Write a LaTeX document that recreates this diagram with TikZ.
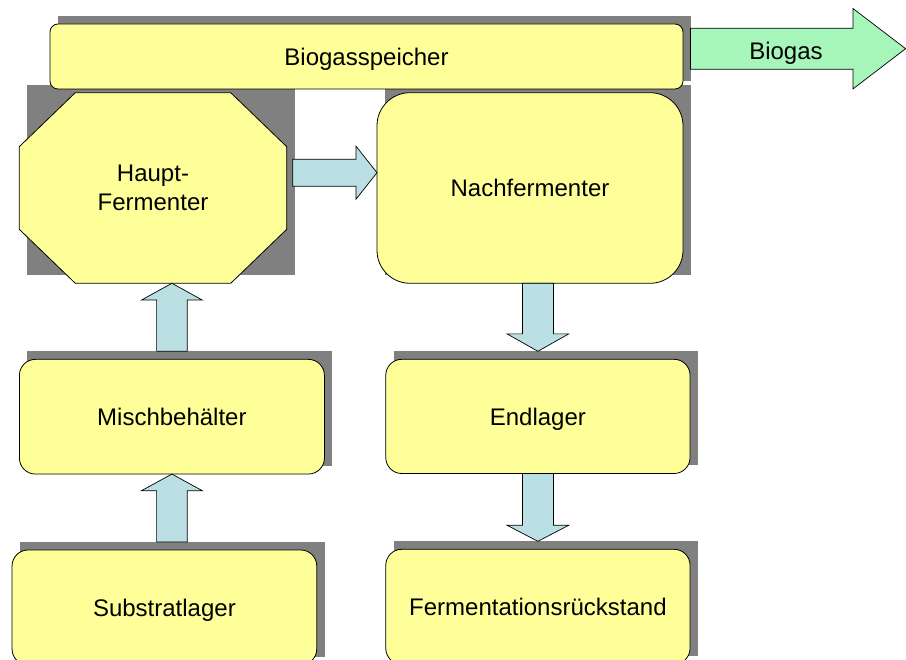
\documentclass[tikz,border=0pt]{standalone}
\usepackage{fontspec}
\setmainfont{Liberation Sans}
\usetikzlibrary{calc,backgrounds}

\definecolor{boxyellow}{RGB}{255,255,153}
\definecolor{arrowblue}{RGB}{187,224,227}
\definecolor{gasgreen}{RGB}{166,246,185}
\definecolor{shadowgray}{RGB}{128,128,128}

% #1 style, #2 start, #3 tip, #4 shaft half width, #5 head half width, #6 head length
\newcommand{\blockarrow}[6]{%
  \draw[#1] let \p1=#2, \p2=#3,
    \n1={atan2(\y2-\y1,\x2-\x1)}, \n2={veclen(\x2-\x1,\y2-\y1)} in
    [shift={(\x1,\y1)}, rotate=\n1]
    (0pt,-#4pt) -- (\n2*1pt-#6pt,-#4pt) -- (\n2*1pt-#6pt,-#5pt) -- (\n2*1pt,0pt)
    -- (\n2*1pt-#6pt,#5pt) -- (\n2*1pt-#6pt,#4pt) -- (0pt,#4pt) -- cycle;}

\begin{document}
\begin{tikzpicture}[x=1pt,y=-1pt,
  txt/.style={font=\fontsize{24}{29}\selectfont},
  box/.style={txt, draw=black, line width=0.8pt, fill=boxyellow,
    rounded corners=#1, inner sep=0pt, outer sep=0pt, align=center,
    text height=17.5pt, text depth=0pt},
  box/.default=16pt,
  octo/.style={draw=black, line width=0.8pt, fill=boxyellow, line join=miter},
  shadowbox/.style={fill=shadowgray},
  barrow/.style={draw=black, line width=0.7pt, fill=arrowblue, line join=miter},
  garrow/.style={draw=black, line width=0.7pt, fill=gasgreen, line join=miter}]

\useasboundingbox (0,0) rectangle (906,660);

% boxes
\node[box=8pt, minimum width=633pt, minimum height=65pt] (speicher) at (366.5,56.5) {Biogasspeicher};
\node[txt, inner sep=0pt, outer sep=0pt, minimum width=267.4pt, minimum height=190.6pt, align=center] (haupt) at (153,188) {Haupt-\\Fermenter};
\node[box=33pt, minimum width=306pt, minimum height=190.6pt] (nach) at (530,188) {Nachfermenter};
\node[box, minimum width=305pt, minimum height=114.7pt] (misch) at (171.9,416.7) {Mischbehälter};
\node[box, minimum width=304.3pt, minimum height=114.2pt] (endlager) at (537.9,416.4) {Endlager};
\node[box, minimum width=304.7pt, minimum height=115pt] (substrat) at (164.4,607.5) {Substratlager};
\node[box, minimum width=304.3pt, minimum height=115pt] (ferm) at (537.9,606.8) {Fermentationsrückstand};

% shadows and octagon
\begin{scope}[on background layer]
  \foreach \n in {speicher,haupt,nach,misch,endlager,substrat,ferm}
    \fill[shadowbox] ($(\n.south west)+(8,-8)$) rectangle ($(\n.north east)+(8,-8)$);
  \draw[octo] ([xshift=56pt]haupt.north west) -- ([xshift=-56pt]haupt.north east)
    -- ([yshift=-54pt]haupt.north east) -- ([yshift=54pt]haupt.south east)
    -- ([xshift=-56pt]haupt.south east) -- ([xshift=56pt]haupt.south west)
    -- ([yshift=54pt]haupt.south west) -- ([yshift=-54pt]haupt.north west) -- cycle;
\end{scope}

% block arrows
\blockarrow{barrow}{($(haupt.east)+(6,-15.3)$)}{($(nach.west)+(0,-15.3)$)}{13.5}{26.5}{21}
\blockarrow{barrow}{($(misch.north)+(0,-8)$)}{(misch.north |- haupt.south)}{15.3}{30.3}{16.7}
\blockarrow{barrow}{($(misch.south |- substrat.north)+(0,-8)$)}{(misch.south)}{15.3}{30.5}{16.7}
\blockarrow{barrow}{(endlager.north |- nach.south)}{($(endlager.north)+(0,-8)$)}{15.5}{30.8}{17.4}
\blockarrow{barrow}{(endlager.south)}{($(ferm.north)+(0,-8)$)}{15.5}{30.8}{16}

% biogas output
\coordinate (gasout) at (905.6,48.7);
\blockarrow{garrow}{($(speicher.east)+(7.5,-7.8)$)}{(gasout)}{20.5}{40.2}{52.6}
\node[txt, inner sep=0pt, text height=17.5pt, text depth=0pt] (gaslabel) at (786,50.7) {Biogas};
\end{tikzpicture}
\end{document}
